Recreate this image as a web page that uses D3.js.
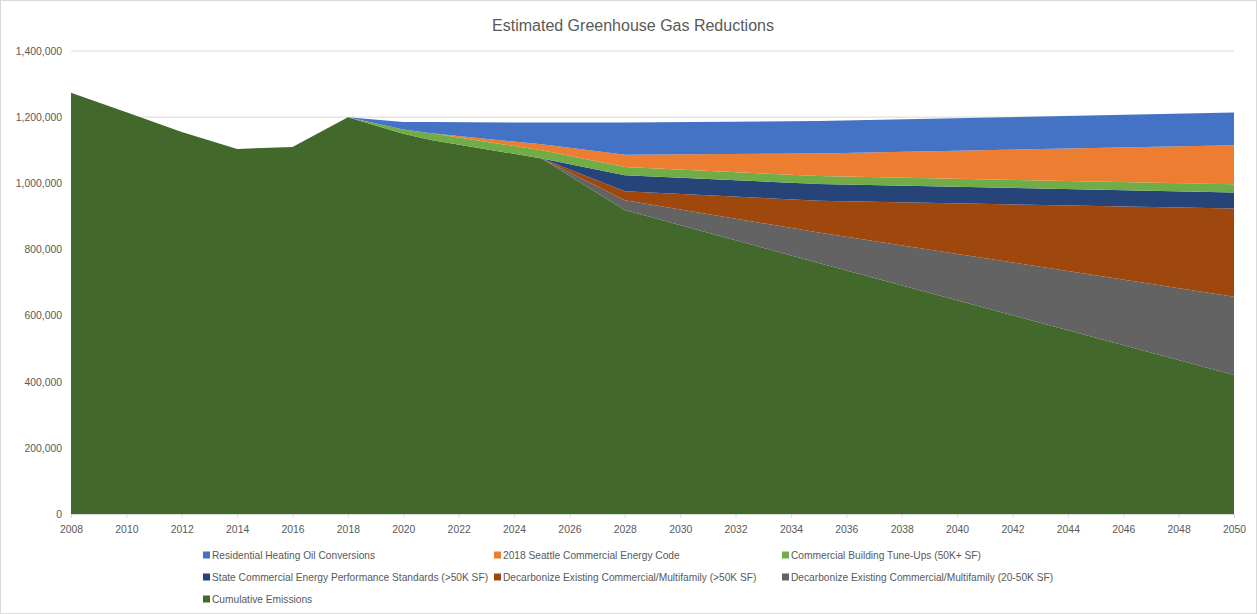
<!DOCTYPE html>
<html>
<head>
<meta charset="utf-8">
<title>Estimated Greenhouse Gas Reductions</title>
<script src="https://d3js.org/d3.v7.min.js"></script>
<style>
  body { margin: 0; background: #fff; }
  svg { font-family: "Liberation Sans", Arial, sans-serif; display: block; }
  .axis text { fill: #595959; font-size: 10.4px; }
  .legend-label { fill: #595959; font-size: 10.2px; }
  .chart-title { fill: #595959; font-size: 16px; }
</style>
</head>
<body>
<svg id="chart"></svg>
<script>
// years where the series change slope
const years = [2008, 2010, 2012, 2014, 2016, 2018, 2020, 2021, 2025, 2028, 2035, 2050];

// stacked series, bottom to top
const cumulativeEmissions = [1274000, 1215000, 1155000, 1104000, 1110000, 1200000, 1150000, 1131000, 1075000, 919000, 759000, 420000];
const decarbSmall        = [0, 0, 0, 0, 0, 0, 0, 0, 0, 30000, 92000, 237000];
const decarbLarge        = [0, 0, 0, 0, 0, 0, 0, 0, 0, 27000, 96000, 267000];
const stateStandards     = [0, 0, 0, 0, 0, 0, 0, 0, 0, 48000, 51000, 48000];
const tuneUps            = [0, 0, 0, 0, 0, 0, 13000, 20000, 25000, 25000, 24000, 25000];
const seattleCode        = [0, 0, 0, 0, 0, 0, 0, 0, 18000, 37500, 68000, 118000];
const residentialOil     = [0, 0, 0, 0, 0, 0, 22000, 34000, 65500, 97000, 98500, 99000];

const seriesKeys = ['cumulative', 'decarbSmall', 'decarbLarge', 'state', 'tuneUps', 'seattle', 'residential'];
const seriesNames = {
  residential: 'Residential Heating Oil Conversions',
  seattle: '2018 Seattle Commercial Energy Code',
  tuneUps: 'Commercial Building Tune-Ups (50K+ SF)',
  state: 'State Commercial Energy Performance Standards (>50K SF)',
  decarbLarge: 'Decarbonize Existing Commercial/Multifamily (>50K SF)',
  decarbSmall: 'Decarbonize Existing Commercial/Multifamily (20-50K SF)',
  cumulative: 'Cumulative Emissions'
};
const seriesColors = {
  residential: '#4472C4',
  seattle: '#ED7D31',
  tuneUps: '#70AD47',
  state: '#264478',
  decarbLarge: '#9E480E',
  decarbSmall: '#636363',
  cumulative: '#43682B'
};
const legendOrder = ['residential', 'seattle', 'tuneUps', 'state', 'decarbLarge', 'decarbSmall', 'cumulative'];

const yTicks = [0, 200000, 400000, 600000, 800000, 1000000, 1200000, 1400000];
const xTicks = d3.range(2008, 2051, 2);

class StackedAreaChart {
  constructor(_config, _data) {
    this.config = {
      parentElement: _config.parentElement,
      containerWidth: _config.containerWidth || 1257,
      containerHeight: _config.containerHeight || 614,
      margin: { top: 51, bottom: 100, right: 23, left: 71 }
    };
    this.data = _data;
    this.initVis();
  }

  initVis() {
    let vis = this;

    vis.width = vis.config.containerWidth - vis.config.margin.left - vis.config.margin.right;
    vis.height = vis.config.containerHeight - vis.config.margin.top - vis.config.margin.bottom;

    vis.xScale = d3.scaleLinear()
        .domain([2008, 2050])
        .range([0, vis.width]);

    vis.yScale = d3.scaleLinear()
        .domain([0, 1400000])
        .range([vis.height, 0]);

    vis.xAxis = d3.axisBottom(vis.xScale)
        .tickValues(xTicks)
        .tickFormat(d3.format('d'))
        .tickSize(4)
        .tickSizeOuter(0)
        .tickPadding(8);

    vis.yAxis = d3.axisLeft(vis.yScale)
        .tickValues(yTicks)
        .tickFormat(d3.format(','))
        .tickSize(0)
        .tickPadding(9);

    vis.svg = d3.select(vis.config.parentElement)
        .attr('width', vis.config.containerWidth)
        .attr('height', vis.config.containerHeight);

    // chart border
    vis.svg.append('rect')
        .attr('x', 0.5).attr('y', 0.5)
        .attr('width', vis.config.containerWidth - 1)
        .attr('height', vis.config.containerHeight - 1)
        .attr('fill', 'none')
        .attr('stroke', '#d9d9d9');

    vis.svg.append('text')
        .attr('class', 'chart-title')
        .attr('x', 633)
        .attr('y', 25)
        .attr('dy', '0.35em')
        .style('text-anchor', 'middle')
        .text('Estimated Greenhouse Gas Reductions');

    vis.chart = vis.svg.append('g')
        .attr('transform', `translate(${vis.config.margin.left},${vis.config.margin.top})`);

    // gridlines
    vis.chart.append('g')
        .attr('class', 'grid')
        .selectAll('line')
        .data(yTicks.filter(d => d > 0))
      .join('line')
        .attr('x1', 0)
        .attr('x2', vis.width)
        .attr('y1', d => vis.yScale(d))
        .attr('y2', d => vis.yScale(d))
        .attr('stroke', '#d9d9d9')
        .attr('stroke-width', 1);

    vis.areaG = vis.chart.append('g');

    vis.xAxisG = vis.chart.append('g')
        .attr('class', 'axis x-axis')
        .attr('transform', `translate(0,${vis.height})`);

    vis.yAxisG = vis.chart.append('g')
        .attr('class', 'axis y-axis');

    vis.legendG = vis.svg.append('g');

    vis.updateVis();
  }

  updateVis() {
    let vis = this;

    vis.stack = d3.stack().keys(seriesKeys);
    vis.series = vis.stack(vis.data);

    vis.area = d3.area()
        .x(d => vis.xScale(d.data.year))
        .y0(d => vis.yScale(d[0]))
        .y1(d => vis.yScale(d[1]));

    vis.renderVis();
  }

  renderVis() {
    let vis = this;

    vis.areaG.selectAll('.layer')
        .data(vis.series)
      .join('path')
        .attr('class', 'layer')
        .attr('d', vis.area)
        .attr('fill', d => seriesColors[d.key]);

    vis.xAxisG.call(vis.xAxis);
    vis.xAxisG.select('.domain').attr('stroke', '#d9d9d9');
    vis.xAxisG.selectAll('.tick line').attr('stroke', '#d9d9d9');

    vis.yAxisG.call(vis.yAxis);
    vis.yAxisG.select('.domain').remove();

    // legend: three per row
    let items = vis.legendG.selectAll('.legend-item')
        .data(legendOrder)
      .join('g')
        .attr('class', 'legend-item')
        .attr('transform', (d, i) => {
          const colX = [203, 494, 782][i % 3];
          const rowY = 555 + Math.floor(i / 3) * 22;
          return `translate(${colX},${rowY})`;
        });

    items.append('rect')
        .attr('x', 0)
        .attr('y', -3.5)
        .attr('width', 7)
        .attr('height', 7)
        .attr('fill', d => seriesColors[d]);

    items.append('text')
        .attr('class', 'legend-label')
        .attr('x', 9)
        .attr('y', 0)
        .attr('dy', '0.35em')
        .text(d => seriesNames[d]);
  }
}

const tableData = years.map((year, i) => ({
  year: year,
  cumulative: cumulativeEmissions[i],
  decarbSmall: decarbSmall[i],
  decarbLarge: decarbLarge[i],
  state: stateStandards[i],
  tuneUps: tuneUps[i],
  seattle: seattleCode[i],
  residential: residentialOil[i]
}));

new StackedAreaChart({ parentElement: '#chart' }, tableData);
</script>
</body>
</html>
